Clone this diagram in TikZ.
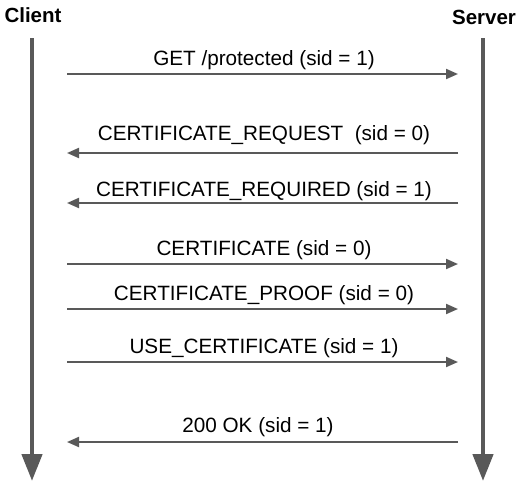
\documentclass[tikz,border=0pt]{standalone}
\usepackage{fontspec}
\setmainfont{Liberation Sans}
\usetikzlibrary{arrows.meta}
\definecolor{linegray}{HTML}{595959}
\tikzset{
  lifeline/.style={line width=4.5pt, linegray, -{Triangle[length=27pt,width=20pt]}},
  msg/.style={line width=2pt, linegray},
  lbl/.style={anchor=base, inner sep=0pt, font=\fontsize{20.7}{24}\selectfont},
  party/.style={anchor=base, inner sep=0pt, font=\fontsize{20.5}{24}\selectfont\bfseries}
}
\begin{document}
\begin{tikzpicture}[x=1pt,y=-1pt]
  \useasboundingbox (0,0) rectangle (525,491);
  % parties and lifelines
  \node[party] (client) at (33,22) {Client};
  \node[party] (server) at (484,24) {Server};
  \coordinate (cltop) at (32,38);  \coordinate (clend) at (32,481);
  \coordinate (svtop) at (483,38); \coordinate (svend) at (483,481);
  \draw[lifeline] (cltop) -- (clend);
  \draw[lifeline] (svtop) -- (svend);
  % messages
  \coordinate (c1) at (67,74);  \coordinate (s1) at (458,74);
  \draw[msg,-{Triangle[length=12pt,width=10pt]}] (c1) -- (s1);
  \node[lbl] (get) at (264,65) {GET /protected (sid = 1)};
  \coordinate (c2) at (67,153); \coordinate (s2) at (458,153);
  \draw[msg,-{Triangle[length=12pt,width=10pt]}] (s2) -- (c2);
  \node[lbl] (certreq) at (264,140) {CERTIFICATE\_REQUEST\ \ (sid = 0)};
  \coordinate (c3) at (67,203); \coordinate (s3) at (458,203);
  \draw[msg,-{Triangle[length=12pt,width=10pt]}] (s3) -- (c3);
  \node[lbl] (certreqd) at (264,196) {CERTIFICATE\_REQUIRED (sid = 1)};
  \coordinate (c4) at (67,264); \coordinate (s4) at (458,264);
  \draw[msg,-{Triangle[length=12pt,width=10pt]}] (c4) -- (s4);
  \node[lbl] (cert) at (264,255) {CERTIFICATE (sid = 0)};
  \coordinate (c5) at (67,309); \coordinate (s5) at (458,309);
  \draw[msg,-{Triangle[length=12pt,width=10pt]}] (c5) -- (s5);
  \node[lbl] (proof) at (264,300) {CERTIFICATE\_PROOF (sid = 0)};
  \coordinate (c6) at (67,362); \coordinate (s6) at (458,362);
  \draw[msg,-{Triangle[length=12pt,width=10pt]}] (c6) -- (s6);
  \node[lbl] (usecert) at (264,353) {USE\_CERTIFICATE (sid = 1)};
  \coordinate (c7) at (67,442); \coordinate (s7) at (458,442);
  \draw[msg,-{Triangle[length=12pt,width=10pt]}] (s7) -- (c7);
  \node[lbl] (ok) at (258,432) {200 OK (sid = 1)};
\end{tikzpicture}
\end{document}
